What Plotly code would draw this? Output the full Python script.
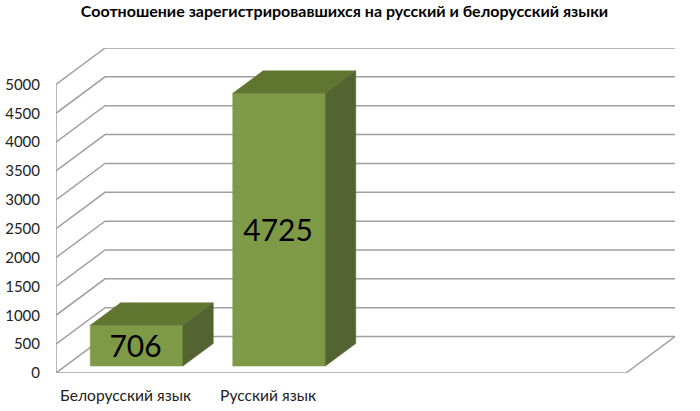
import plotly.graph_objects as go

# данные диаграммы
categories = ["Белорусский язык", "Русский язык"]
values = [706, 4725]
y_ticks = [0, 500, 1000, 1500, 2000, 2500, 3000, 3500, 4000, 4500, 5000]
title = "Соотношение зарегистрировавшихся на русский и белорусский языки"

# оси: 4 слота категорий, глубина задаётся сдвигом в единицах осей
slots = 4
depth_x = 0.344
depth_y = 631
bar_width = 0.65
bar_depth = 0.62   # доля глубины пола, занятая столбиком
label_shift = 69   # подпись чуть ниже центра грани

grid_color = "#A0A0A0"
front_color = "#7E9A47"
top_color = "#607630"
side_color = "#536332"

fig = go.Figure()


def add_line(xs, ys):
    fig.add_trace(go.Scatter(x=xs, y=ys, mode="lines", line=dict(color=grid_color, width=1.5),
                             cliponaxis=False, hoverinfo="skip", showlegend=False))


def add_face(xs, ys, color):
    fig.add_trace(go.Scatter(x=xs, y=ys, mode="lines", fill="toself", fillcolor=color,
                             line=dict(color=color, width=0.5), cliponaxis=False,
                             hoverinfo="skip", showlegend=False))


# сетка на левой и задней стенках
for t in y_ticks:
    add_line([0, depth_x, slots + depth_x], [t, t + depth_y, t + depth_y])
add_line([0, 0], [0, y_ticks[-1]])
add_line([0, slots, slots + depth_x], [0, 0, depth_y])

# столбики
front = (1 - bar_depth) / 2
for i, v in enumerate(values):
    x0 = i + 0.5 - bar_width / 2 + front * depth_x
    x1 = x0 + bar_width
    y0 = front * depth_y
    y1 = y0 + v
    dx = bar_depth * depth_x
    dy = bar_depth * depth_y
    add_face([x0, x1, x1, x0, x0], [y0, y0, y1, y1, y0], front_color)
    add_face([x0, x1, x1 + dx, x0 + dx, x0], [y1, y1, y1 + dy, y1 + dy, y1], top_color)
    add_face([x1, x1 + dx, x1 + dx, x1, x1], [y0, y0 + dy, y1 + dy, y1, y0], side_color)
    fig.add_trace(go.Scatter(x=[(x0 + x1) / 2 - 0.007], y=[(y0 + y1) / 2 - label_shift], mode="text", text=[str(v)],
                             textposition="middle center", textfont=dict(size=30, color="#000000"),
                             cliponaxis=False, hoverinfo="skip", showlegend=False))

fig.update_layout(
    width=700,
    height=411,
    autosize=False,
    margin=dict(l=56, r=25, t=47.5, b=37.5),
    paper_bgcolor="white",
    plot_bgcolor="white",
    font=dict(family="Lato", color="#222222"),
    title=dict(text="<b>" + title + "</b>", x=344.5 / 700, y=1 - 11.5 / 411, xanchor="center",
               yanchor="middle", automargin=False, font=dict(family="Lato", size=16, color="#000000")),
    xaxis=dict(range=[0, slots + depth_x], tickmode="array", tickvals=[i + 0.488 for i in range(len(categories))],
               ticktext=categories, ticks="outside", ticklen=8, tickcolor="rgba(0,0,0,0)", automargin=False,
               showgrid=False, zeroline=False, showline=False, tickfont=dict(size=15.6)),
    yaxis=dict(range=[0, y_ticks[-1] + depth_y], tickmode="array", tickvals=y_ticks,
               ticktext=[str(t) for t in y_ticks], ticks="outside", ticklen=12, tickcolor="rgba(0,0,0,0)", automargin=False,
               showgrid=False, zeroline=False, showline=False, tickfont=dict(size=15)),
)

# у страницы свой отступ 8 px, убираем его
fig.write_html("out.html", config={"displayModeBar": False}, post_script="document.body.style.margin = '0';")
